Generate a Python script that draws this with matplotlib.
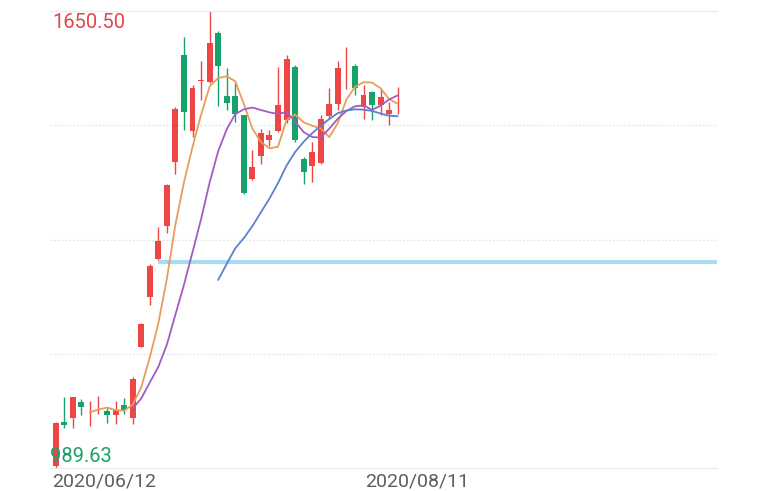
import matplotlib
matplotlib.use("Agg")
import matplotlib.pyplot as plt
import numpy as np
import pandas as pd

# ---- data ----
opens = [992.5, 1056.3, 1062.5, 1085.3, 1073.0, 1073.2, 1072.2, 1066.4, 1080.9, 1062.5,
         1165.0, 1237.4, 1292.1, 1340.3, 1432.1, 1586.7, 1477.0, 1549.0, 1548.0, 1618.2,
         1527.3, 1527.3, 1499.8, 1408.0, 1440.4, 1463.5, 1477.0, 1492.5, 1569.8, 1437.0,
         1425.9, 1430.6, 1498.3, 1515.7, 1584.8, 1570.8, 1511.8, 1533.5, 1514.3, 1501.2,
         1504.2]
highs = [1055.5, 1092.5, 1093.0, 1089.2, 1086.7, 1094.0, 1077.0, 1086.7, 1091.5, 1121.5,
         1199.0, 1284.0, 1337.9, 1400.0, 1511.8, 1612.4, 1543.3, 1578.5, 1650.50, 1621.9,
         1567.5, 1545.7, 1500.5, 1449.0, 1480.5, 1479.0, 1568.9, 1586.7, 1572.2, 1440.0,
         1461.1, 1499.8, 1538.5, 1578.5, 1598.8, 1573.7, 1543.3, 1535.0, 1537.0, 1519.0,
         1540.8]
lows = [989.63, 1048.0, 1048.0, 1066.4, 1050.5, 1067.9, 1055.3, 1053.4, 1067.9, 1053.4,
        1164.0, 1225.9, 1291.0, 1328.8, 1415.3, 1479.0, 1468.3, 1522.5, 1545.7, 1512.8,
        1507.0, 1490.1, 1386.0, 1405.6, 1429.8, 1454.8, 1475.6, 1488.6, 1461.1, 1400.8,
        1403.1, 1429.8, 1495.0, 1507.0, 1537.0, 1528.8, 1495.0, 1492.5, 1499.8, 1485.3,
        1502.0]
closes = [1054.8, 1051.9, 1092.5, 1078.0, 1074.0, 1074.2, 1066.4, 1073.7, 1073.7, 1118.6,
          1198.3, 1282.4, 1318.6, 1398.8, 1509.5, 1504.6, 1538.5, 1550.0, 1603.7, 1570.8,
          1517.6, 1502.2, 1387.2, 1424.8, 1474.1, 1470.8, 1514.3, 1580.5, 1464.6, 1417.2,
          1446.6, 1495.0, 1516.7, 1567.5, 1585.8, 1538.5, 1528.8, 1514.3, 1526.3, 1507.0,
          1505.0]
ma_periods = [5, 10, 20]
price_line = 1287.2          # horizontal reference line
price_line_start = 12        # candle index where it starts
max_label = "1650.50"
min_label = "989.63"
date_labels = ["2020/06/12", "2020/08/11"]

# ---- styles ----
RED = "#EE4545"
GREEN = "#16A26A"
MA_COLORS = ["#E89D5C", "#A35CC2", "#5B80D2"]
LINE_BLUE = "#A7DCF1"

W, H = 782, 491
fig = plt.figure(figsize=(W / 100, H / 100), dpi=100)
L, R, T, B = 50, 717, 11, 468
ax = fig.add_axes([L / W, 1 - B / H, (R - L) / W, (B - T) / H])

n = len(closes)
x = np.arange(n)
ymin, ymax = 989.63, 1650.50
ax.set_ylim(ymin, ymax)
spacing = 8.55
x0 = (L - 55.7) / spacing
x1 = (R - 55.7) / spacing
ax.set_xlim(x0, x1)

# grid
for k in range(1, 4):
    yv = ymin + (ymax - ymin) * k / 4
    ax.axhline(yv, color="#E6E6E6", lw=0.9, ls=(0, (1.5, 1.5)), zorder=0)

# horizontal reference line
ax.hlines(price_line, price_line_start, x1, color=LINE_BLUE, lw=3.0, zorder=1)

# candles
bw = 0.7
for i in range(n):
    o, h, l, c = opens[i], highs[i], lows[i], closes[i]
    col = RED if c >= o else GREEN
    ax.vlines(x[i], l, h, color=col, lw=1.0, zorder=2)
    bottom = min(o, c)
    height = max(abs(c - o), 0.8)
    ax.bar(x[i], height, bottom=bottom, width=bw, color=col, edgecolor=col, lw=0, zorder=3)

# moving averages
s = pd.Series(closes)
for p, colr in zip(ma_periods, MA_COLORS):
    ma = s.rolling(p).mean()
    ax.plot(x, ma, color=colr, lw=1.3, zorder=4, solid_capstyle="round")

# spines
for sp in ["left", "right"]:
    ax.spines[sp].set_visible(False)
for sp in ["top", "bottom"]:
    ax.spines[sp].set_color("#EEEEEE")
    ax.spines[sp].set_linewidth(1.0)
ax.set_xticks([])
ax.set_yticks([])

font = "Roboto"
fig.text(52 / W, 1 - 22 / H, max_label, color="#E0474C", fontsize=14.5,
         family=font, ha="left", va="center")
fig.text(50 / W, 1 - 456 / H, min_label, color="#1E9E6A", fontsize=14.5,
         family=font, ha="left", va="center")
fig.text(52 / W, 1 - 481 / H, date_labels[0], color="#5E5E5E", fontsize=14,
         family=font, ha="left", va="center")
fig.text(417 / W, 1 - 481 / H, date_labels[1], color="#5E5E5E", fontsize=14,
         family=font, ha="center", va="center")

fig.savefig("out.png", dpi=100)
